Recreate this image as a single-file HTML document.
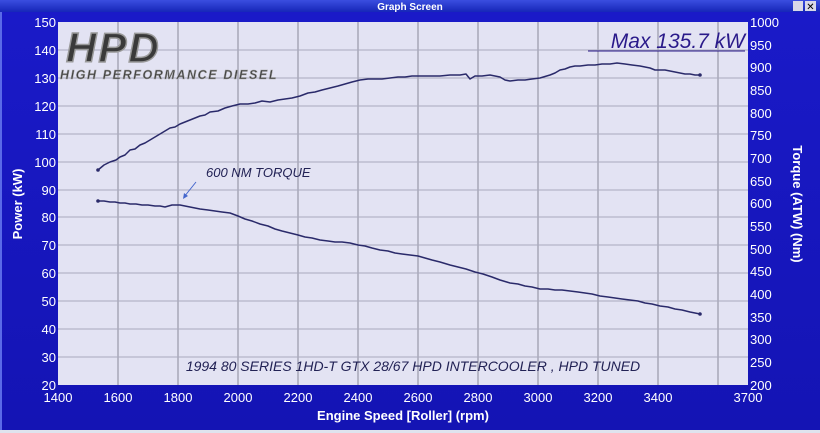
<!DOCTYPE html>
<html><head><meta charset="utf-8"><style>
body{margin:0;width:820px;height:433px;overflow:hidden;background:#dfe3ee;}
svg{display:block;font-family:"Liberation Sans",sans-serif;}
</style></head><body>
<svg width="820" height="433" viewBox="0 0 820 433">
<defs>
<linearGradient id="tb" x1="0" y1="0" x2="0" y2="1"><stop offset="0" stop-color="#3a4ee0"/><stop offset="1" stop-color="#1626b8"/></linearGradient>
<linearGradient id="bg" x1="0" y1="0" x2="0" y2="1"><stop offset="0" stop-color="#1a1ac8"/><stop offset="1" stop-color="#1414b4"/></linearGradient>
</defs>
<rect x="0" y="0" width="820" height="12" fill="url(#tb)"/>
<text x="410" y="10" fill="#fff" font-size="10" font-weight="bold" text-anchor="middle">Graph Screen</text>
<rect x="793" y="1" width="10" height="10" fill="#d8d8e8"/><rect x="805" y="1" width="11" height="10" fill="#d8d8e8"/>
<text x="810.5" y="10" font-size="10" text-anchor="middle" fill="#000">✕</text>
<rect x="0" y="12" width="820" height="418" fill="url(#bg)"/>
<rect x="0" y="12" width="2" height="418" fill="#5a6ae8"/>
<rect x="58" y="22" width="690" height="363" fill="#e3e3f3"/>
<g stroke="#8a8a9a" stroke-width="1">
<line x1="118" y1="22" x2="118" y2="385"/><line x1="178" y1="22" x2="178" y2="385"/><line x1="238" y1="22" x2="238" y2="385"/><line x1="298" y1="22" x2="298" y2="385"/><line x1="358" y1="22" x2="358" y2="385"/><line x1="418" y1="22" x2="418" y2="385"/><line x1="478" y1="22" x2="478" y2="385"/><line x1="538" y1="22" x2="538" y2="385"/><line x1="598" y1="22" x2="598" y2="385"/><line x1="658" y1="22" x2="658" y2="385"/><line x1="718" y1="22" x2="718" y2="385"/>
</g>
<g stroke="#aaaabe" stroke-width="1">
<line x1="58" y1="50" x2="748" y2="50"/><line x1="58" y1="78" x2="748" y2="78"/><line x1="58" y1="106" x2="748" y2="106"/><line x1="58" y1="134" x2="748" y2="134"/><line x1="58" y1="162" x2="748" y2="162"/><line x1="58" y1="190" x2="748" y2="190"/><line x1="58" y1="217" x2="748" y2="217"/><line x1="58" y1="245" x2="748" y2="245"/><line x1="58" y1="273" x2="748" y2="273"/><line x1="58" y1="301" x2="748" y2="301"/><line x1="58" y1="329" x2="748" y2="329"/><line x1="58" y1="357" x2="748" y2="357"/>
</g>
<g fill="#fff" font-size="13" text-anchor="end">
<text x="56" y="27">150</text><text x="56" y="55">140</text><text x="56" y="83">130</text><text x="56" y="111">120</text><text x="56" y="139">110</text><text x="56" y="167">100</text><text x="56" y="195">90</text><text x="56" y="222">80</text><text x="56" y="250">70</text><text x="56" y="278">60</text><text x="56" y="306">50</text><text x="56" y="334">40</text><text x="56" y="362">30</text><text x="56" y="390">20</text>
</g>
<g fill="#fff" font-size="13" text-anchor="start">
<text x="750" y="27">1000</text><text x="750" y="50">950</text><text x="750" y="72">900</text><text x="750" y="95">850</text><text x="750" y="118">800</text><text x="750" y="140">750</text><text x="750" y="163">700</text><text x="750" y="186">650</text><text x="750" y="208">600</text><text x="750" y="231">550</text><text x="750" y="254">500</text><text x="750" y="276">450</text><text x="750" y="299">400</text><text x="750" y="322">350</text><text x="750" y="344">300</text><text x="750" y="367">250</text><text x="750" y="390">200</text>
</g>
<g fill="#fff" font-size="13" text-anchor="middle">
<text x="58" y="402">1400</text><text x="118" y="402">1600</text><text x="178" y="402">1800</text><text x="238" y="402">2000</text><text x="298" y="402">2200</text><text x="358" y="402">2400</text><text x="418" y="402">2600</text><text x="478" y="402">2800</text><text x="538" y="402">3000</text><text x="598" y="402">3200</text><text x="658" y="402">3400</text><text x="748" y="402">3700</text>
</g>
<text x="403" y="420" fill="#fff" font-size="13" font-weight="bold" text-anchor="middle">Engine Speed [Roller] (rpm)</text>
<text transform="translate(22,204) rotate(-90)" fill="#fff" font-size="13" font-weight="bold" text-anchor="middle">Power (kW)</text>
<text transform="translate(793,204) rotate(90)" fill="#fff" font-size="13" font-weight="bold" text-anchor="middle">Torque (ATW) (Nm)</text>
<text x="66" y="62" font-style="italic" font-weight="bold" font-size="42" fill="#3a3a3a" stroke="#999" stroke-width="1.5" letter-spacing="2">HPD</text>
<text x="60" y="79" font-style="italic" font-weight="bold" font-size="12.5" fill="#444" stroke="#aaa" stroke-width="0.5" letter-spacing="1.6">HIGH PERFORMANCE DIESEL</text>
<text x="745" y="48" font-style="italic" font-size="21" fill="#2a1a8a" text-anchor="end">Max 135.7 kW</text>
<line x1="588" y1="51" x2="745" y2="51" stroke="#2a1a8a" stroke-width="1"/>
<text x="206" y="177" font-style="italic" font-size="13" fill="#222255">600 NM TORQUE</text>
<line x1="196" y1="182" x2="184" y2="197" stroke="#4466cc" stroke-width="1"/>
<path d="M183,199 l1,-6 l4,3z" fill="#4466cc"/>
<text x="413" y="371" font-style="italic" font-size="14" fill="#222255" text-anchor="middle">1994 80 SERIES 1HD-T GTX 28/67 HPD INTERCOOLER , HPD TUNED</text>
<g fill="none" stroke="#2a2a6a" stroke-width="1.5" stroke-linejoin="round">
<polyline points="98,170 104,165 110,162 116,160 120,157 125,155 130,150 135,149 140,145 145,143 150,140 155,137 160,134 165,131 170,128 175,127 180,124 185,122 190,120 195,118 200,116 205,115 210,112 218,111 225,108 232,106 240,104 248,104 255,103 262,101 270,102 278,100 285,99 292,98 300,96 308,93 315,92 322,90 330,88 338,86 345,84 352,82 360,80 368,79 375,79 382,79 390,78 398,77 405,77 412,76 420,76 430,76 440,76 450,75 460,75 466,74 470,79 475,76 482,76 490,75 500,77 505,80 510,81 518,80 525,80 532,79 540,78 550,75 555,73 560,70 565,69 570,67 575,66 580,66 588,65 595,65 602,64 610,64 617,63 625,64 632,65 640,66 645,67 650,68 655,70 660,70 665,70 670,71 675,72 680,73 685,74 690,74 695,75 700,75"/>
<polyline points="98,201 104,201 110,202 115,202 120,203 125,203 130,204 136,204 142,205 148,205 155,206 160,206 165,207 172,205 180,205 185,206 190,207 195,208 200,209 208,210 215,211 222,212 230,213 238,216 245,219 252,221 260,224 268,226 275,229 282,231 290,233 298,235 305,237 312,238 320,240 328,241 335,242 342,242 350,243 358,245 365,246 372,248 380,250 388,251 395,253 402,254 410,255 418,256 425,258 432,260 440,262 450,265 458,267 466,269 475,272 483,274 492,277 500,280 510,283 518,284 525,286 532,287 540,289 548,289 555,290 562,290 570,291 578,292 585,293 592,294 600,296 608,297 615,298 622,299 630,300 638,301 645,303 652,304 660,306 668,307 675,309 682,310 690,312 695,313 700,314"/>
</g>
<g fill="#2a2a6a"><circle cx="98" cy="170" r="1.8"/><circle cx="700" cy="75" r="1.8"/><circle cx="98" cy="201" r="1.8"/><circle cx="700" cy="314" r="1.8"/></g>
</svg>
</body></html>
